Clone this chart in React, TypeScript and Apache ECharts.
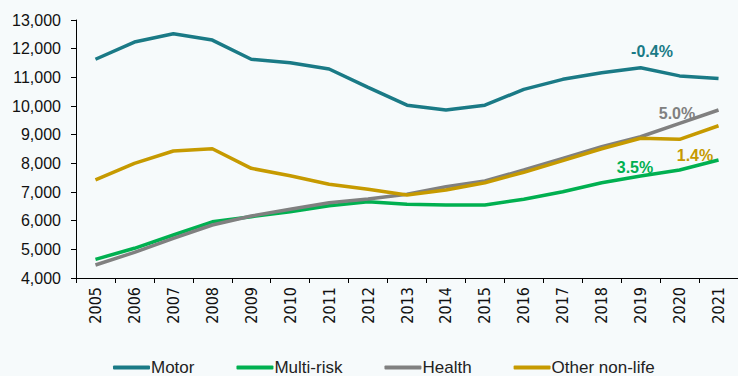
import React, { useEffect, useRef } from "react";
import * as echarts from "echarts";

const years = ["2005","2006","2007","2008","2009","2010","2011","2012","2013","2014","2015","2016","2017","2018","2019","2020","2021"];
const motor = [11630, 12230, 12520, 12300, 11630, 11510, 11290, 10650, 10030, 9860, 10030, 10580, 10930, 11160, 11335, 11050, 10960];
const multiRisk = [4650, 5036, 5500, 5960, 6138, 6313, 6522, 6660, 6570, 6550, 6550, 6745, 7010, 7324, 7560, 7767, 8116];
const health = [4453, 4896, 5385, 5849, 6162, 6395, 6627, 6755, 6919, 7185, 7383, 7767, 8175, 8580, 8928, 9396, 9860];
const otherNonLife = [7420, 8000, 8430, 8510, 7826, 7568, 7268, 7094, 6895, 7069, 7324, 7687, 8092, 8510, 8873, 8838, 9312];

const seriesNames = ["Motor", "Multi-risk", "Health", "Other non-life"];
const colors = ["#1A7A86", "#00B050", "#808080", "#C69A00"];
const growthLabels = ["-0.4%", "3.5%", "5.0%", "1.4%"];

export default function App() {
  const ref = useRef<HTMLDivElement>(null);
  useEffect(() => {
    if (!ref.current) return;
    const chart = echarts.init(ref.current, null, { renderer: "svg" });
    const datas = [motor, multiRisk, health, otherNonLife];
    const labelPos = [
      { x: 652, y: 51 },
      { x: 635, y: 167 },
      { x: 677, y: 113 },
      { x: 695, y: 155 },
    ];
    chart.setOption({
      animation: false,
      backgroundColor: "#F6FAFB",
      textStyle: { fontFamily: "Liberation Sans, Arial, sans-serif" },
      grid: { left: 76, top: 20, width: 671, height: 258 },
      legend: {
        bottom: 0,
        left: 113,
        padding: 0,
        itemWidth: 37,
        itemHeight: 4,
        itemGap: 42,
        icon: "roundRect",
        data: seriesNames,
        textStyle: {
          fontSize: 17,
          lineHeight: 16,
          color: "#222",
          padding: [0, 0, 0, -4],
          fontFamily: "Liberation Sans, Arial, sans-serif",
        },
      },
      xAxis: {
        type: "category",
        data: years,
        boundaryGap: true,
        axisLine: { lineStyle: { color: "#000", width: 1 } },
        axisTick: { show: true, length: 5, lineStyle: { color: "#000" } },
        axisLabel: {
          rotate: 90,
          fontSize: 16,
          color: "#111",
          margin: 9,
          interval: 0,
          fontFamily: "'Liberation Sans Narrow', 'DejaVu Sans Condensed', Arial, sans-serif",
        },
      },
      yAxis: {
        type: "value",
        min: 4000,
        max: 13000,
        interval: 1000,
        splitLine: { show: false },
        axisLine: { show: true, lineStyle: { color: "#000", width: 1 } },
        axisTick: { show: true, length: 5, lineStyle: { color: "#000" } },
        axisLabel: {
          fontSize: 16,
          color: "#111",
          margin: 15,
          formatter: (v: number) => v.toLocaleString("en-US"),
        },
      },
      series: seriesNames.map((name, i) => ({
        name,
        type: "line",
        data: datas[i],
        symbol: "none",
        lineStyle: { color: colors[i], width: 3.5 },
        itemStyle: { color: colors[i] },
        z: [4, 2, 3, 5][i],
      })),
      graphic: growthLabels.map((t, i) => ({
        type: "text",
        x: labelPos[i].x,
        y: labelPos[i].y,
        style: {
          text: t,
          fill: colors[i],
          font: "bold 16px 'Liberation Sans', Arial, sans-serif",
          textAlign: "center",
          textVerticalAlign: "middle",
        },
      })),
    });
    return () => chart.dispose();
  }, []);
  return (
    <div
      ref={ref}
      style={{ position: "fixed", left: 0, top: 0, width: 738, height: 376 }}
    />
  );
}
